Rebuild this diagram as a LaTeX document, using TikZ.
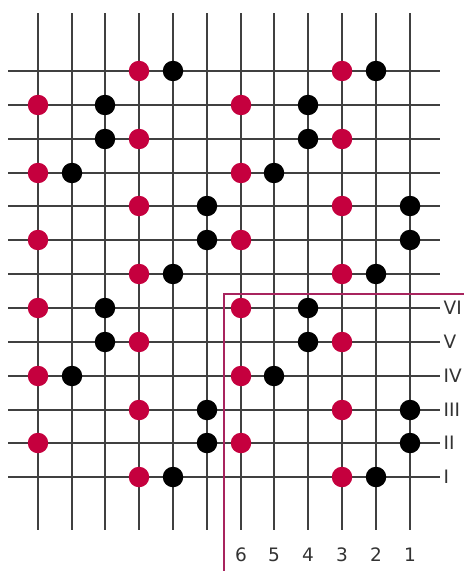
\documentclass[tikz,border=0pt]{standalone}
\usepackage{fontspec}
\setmainfont{DejaVu Sans}
\definecolor{dotred}{HTML}{C5003E}
\definecolor{frame}{HTML}{A8245E}
\definecolor{txt}{HTML}{333333}
\begin{document}
\begin{tikzpicture}[x=1bp,y=-1bp,
  gridline/.style={line width=1.5bp,black!75},
  reddot/.style={circle,fill=dotred,inner sep=0pt,minimum size=20.5bp},
  blackdot/.style={circle,fill=black,inner sep=0pt,minimum size=20.5bp},
  lbl/.style={font=\fontsize{18.5bp}{20bp}\selectfont,text=txt,inner sep=0pt},
  framebox/.style={line width=2.4bp,frame}]
\useasboundingbox (0,0) rectangle (464,571);
\def\cx#1{round(37.7+33.82*(#1-1))}
\def\ry#1{round(71+33.86*(#1-1))}
% grid
\foreach \c in {1,...,12}
  \draw[gridline] ({\cx{\c}},13.5) -- ({\cx{\c}},530);
\foreach \r in {1,...,13}
  \draw[gridline] (8.3,{\ry{\r}}) -- (439.5,{\ry{\r}});
% frame
\coordinate (fb) at (224,571);
\coordinate (fc) at (224,294);
\coordinate (fr) at (464,294);
\draw[framebox] (fb) -- (fc) -- (fr);
% dots: row/column lists
\foreach \r/\c [count=\i] in {1/4,1/10,2/1,2/7,3/4,3/10,4/1,4/7,5/4,5/10,6/1,6/7,7/4,7/10,8/1,8/7,9/4,9/10,10/1,10/7,11/4,11/10,12/1,12/7,13/4,13/10}
  \node[reddot] (red\i) at ({\cx{\c}},{\ry{\r}}) {};
\foreach \r/\c [count=\i] in {1/5,1/11,2/3,2/9,3/3,3/9,4/2,4/8,5/6,5/12,6/6,6/12,7/5,7/11,8/3,8/9,9/3,9/9,10/2,10/8,11/6,11/12,12/6,12/12,13/5,13/11}
  \node[blackdot] (blk\i) at ({\cx{\c}},{\ry{\r}}) {};
% labels
\foreach \t [count=\i from 8] in {VI,V,IV,III,II,I}
  \node[lbl,anchor=west] (row\i) at (443.5,{\ry{\i}}) {\t};
\foreach \t [count=\i from 7] in {6,5,4,3,2,1}
  \node[lbl] (col\i) at ({\cx{\i}},555) {\t};
\end{tikzpicture}
\end{document}
